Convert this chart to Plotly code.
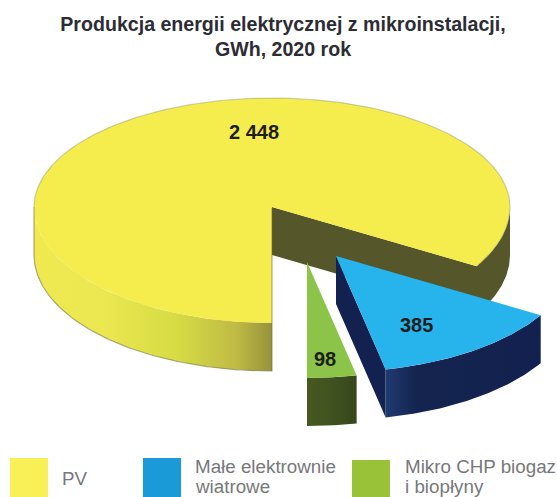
import numpy as np
import plotly.graph_objects as go

# ---- data ----
categories = ["PV", "Małe elektrownie<br>wiatrowe", "Mikro CHP biogaz<br>i biopłyny"]
values = [2448, 385, 98]
value_labels = ["2 448", "385", "98"]
title_text = "Produkcja energii elektrycznej z mikroinstalacji,<br>GWh, 2020 rok"

# ---- styles / geometry ----
W, H = 557, 497
CX, CY = 272, 207
RX, RY_FRONT, RY_BACK = 238, 116, 109
DEPTH = 48
top_colors = ["#f5ec4d", "#27b4ec", "#8cc44a"]
legend_colors = ["#f9ef56", "#1a9ad6", "#9ac238"]
explode = [(0, 0), (64, 49), (35, 55)]
cut_colors = ["#55562a", "#12214f", "#3f5120"]
side_scales = [
    [[0, "#f0ea50"], [0.3, "#ebe751"], [0.6, "#d6dc44"], [0.85, "#c0ba45"], [1, "#96923a"]],
    [[0, "#1f3a72"], [0.2, "#14244f"], [1, "#12214f"]],
    [[0, "#46591f"], [0.55, "#3f5120"], [1, "#36461a"]],
]
legend_x = [10, 143, 352]
legend_y0 = [458, 458, 460]
legend_text_x = [60, 193, 403]
legend_line_y = [(478,), (466, 486.5), (466, 486.5)]
label_pos = [(254, 132), (416, 325), (325, 359)]


def ell(t, ox, oy):
    t = np.asarray(t)
    s = np.sin(t)
    ry = np.where(s < 0, RY_BACK, RY_FRONT)
    return CX + ox + RX * np.cos(t), CY + oy + ry * s


total = sum(values)
spans = [2 * np.pi * v / total for v in values]
# y axis points down; t grows clockwise on screen. The yellow slice starts at 6 o'clock (t = pi/2).
starts = [np.pi / 2]
for s in spans[:-1]:
    starts.append(starts[-1] + s)

fig = go.Figure()


def poly(xs, ys, color=None, grad=None):
    kw = dict(x=list(xs), y=list(ys), mode="lines", fill="toself", hoverinfo="skip", showlegend=False,
              line=dict(width=0, color="rgba(0,0,0,0)"))
    if grad:
        kw["fillgradient"] = dict(type="horizontal", colorscale=grad)
    else:
        kw["fillcolor"] = color
    fig.add_trace(go.Scatter(**kw))


def edge(xs, ys, color):
    fig.add_trace(go.Scatter(x=list(xs), y=list(ys), mode="lines", hoverinfo="skip", showlegend=False,
                             line=dict(width=1.2, color=color)))


def side(t0, t1, i, ox, oy, color=None, grad=None):
    t = np.linspace(t0, t1, 90)
    x, y = ell(t, ox, oy)
    poly(np.r_[x, x[::-1]], np.r_[y, y[::-1] + DEPTH], color=color, grad=grad)


def draw_slice(i):
    ox, oy = explode[i]
    t0, t1 = starts[i], starts[i] + spans[i]
    cxx, cyy = CX + ox, CY + oy
    if i == 0:
        side(t0, np.pi, i, ox, oy, grad=side_scales[0])
        # inner wall and right rim as a single shape
        r = np.linspace(t1, 2 * np.pi, 60)
        rx, ry = ell(r, ox, oy)
        poly(np.r_[cxx, rx, rx[::-1], cxx], np.r_[cyy, ry, ry[::-1] + DEPTH, cyy + DEPTH], color=cut_colors[0])
    else:
        if i == 1:
            ex, ey = ell(t1, ox, oy)
            ex, ey = float(ex), float(ey)
            poly([cxx, ex, ex, cxx], [cyy, ey, ey + DEPTH, cyy + DEPTH], color=cut_colors[1])
        side(t0, t1, i, ox, oy, grad=side_scales[i])
    t = np.linspace(t0, t1, 240)
    x, y = ell(t, ox, oy)
    poly(np.r_[cxx, x, cxx], np.r_[cyy, y, cyy], color=top_colors[i])
    if i == 0:
        # soft silhouette: far rim, lower near rim, vertical cut edge
        a = np.linspace(np.pi, t1, 200)
        ax, ay = ell(a, ox, oy)
        edge(ax, ay, "rgba(120,120,110,0.35)")
        b = np.linspace(t0, np.pi, 120)
        bx, by = ell(b, ox, oy)
        edge(np.r_[cxx, bx, bx[-1]], np.r_[cyy + 1, by + DEPTH, by[-1]], "rgba(110,105,60,0.55)")


for i in range(3):
    draw_slice(i)

for pos, lab in zip(label_pos, value_labels):
    fig.add_annotation(x=pos[0], y=pos[1], text=f"<b>{lab}</b>", showarrow=False,
                       font=dict(family="Liberation Sans", size=20, color="#1d1d1b"))

shapes = []
for x0, y0, c in zip(legend_x, legend_y0, legend_colors):
    shapes.append(dict(type="rect", x0=x0, x1=x0 + 38, y0=y0, y1=497, fillcolor=c, line_width=0, layer="below"))
for x0, cat, ys in zip(legend_text_x, categories, legend_line_y):
    for line, y in zip(cat.split("<br>"), ys):
        fig.add_annotation(x=x0, y=y, text=line, showarrow=False, xanchor="left", align="left",
                           font=dict(family="Liberation Sans", size=18.8, color="#77787b"))

fig.update_layout(
    width=W, height=H, margin=dict(l=0, r=0, t=0, b=0),
    paper_bgcolor="white", plot_bgcolor="white", shapes=shapes,
    title=dict(text=f"<b>{title_text}</b>", x=283 / W, y=1 - 31 / H, xanchor="center", yanchor="top",
               font=dict(family="Liberation Sans", size=19.6, color="#2c2c34")),
    xaxis=dict(range=[0, W], visible=False, fixedrange=True),
    yaxis=dict(range=[H, 0], visible=False, fixedrange=True),
)
fig.write_html("out.html", config={"displayModeBar": False},
               post_script="document.body.style.margin='0';document.documentElement.style.overflow='hidden';")
